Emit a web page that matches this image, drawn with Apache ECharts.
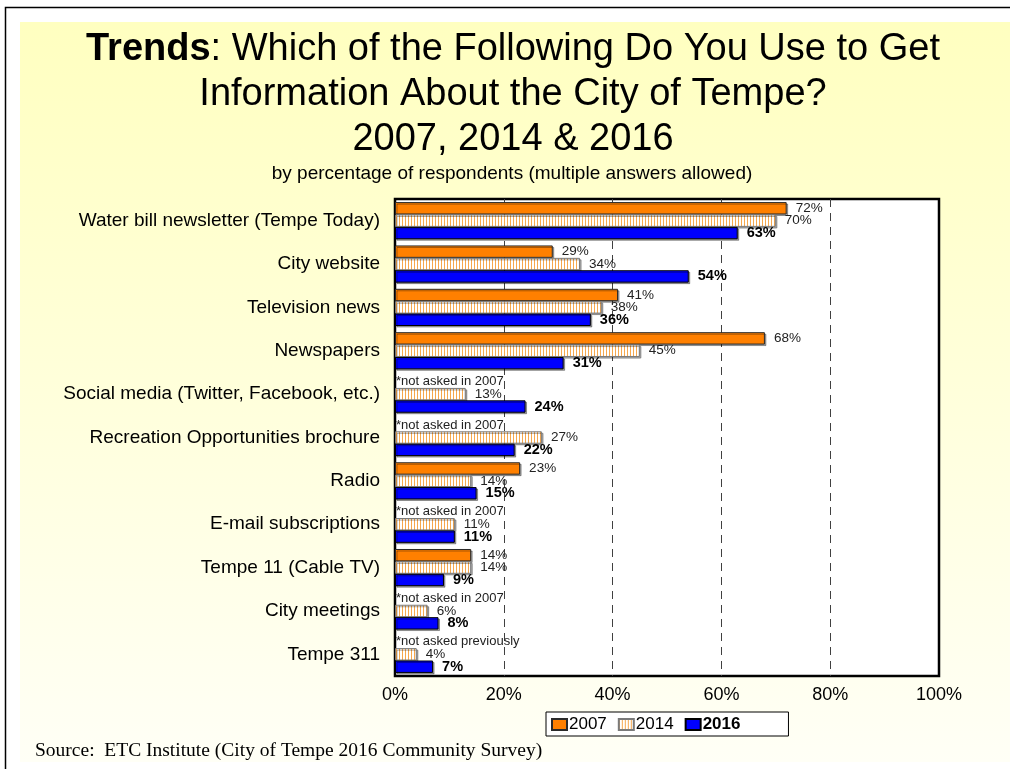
<!DOCTYPE html>
<html>
<head>
<meta charset="utf-8">
<title>Trends: Information Sources About the City of Tempe</title>
<script src="https://cdn.jsdelivr.net/npm/echarts/dist/echarts.min.js"></script>
<style>
  html, body { margin: 0; padding: 0; background: #ffffff; }
  #chart { width: 1010px; height: 769px; }
</style>
</head>
<body>
<div id="chart"></div>
<script>
// Survey sources, top to bottom
const categories = [
  'Water bill newsletter (Tempe Today)',
  'City website',
  'Television news',
  'Newspapers',
  'Social media (Twitter, Facebook, etc.)',
  'Recreation Opportunities brochure',
  'Radio',
  'E-mail subscriptions',
  'Tempe 11 (Cable TV)',
  'City meetings',
  'Tempe 311'
];

// Percentage of respondents per survey year (null = not asked that year)
const values2007 = [72, 29, 41, 68, null, null, 23, null, 14, null, null];
const values2014 = [70, 34, 38, 45, 13, 27, 14, 11, 14, 6, 4];
const values2016 = [63, 54, 36, 31, 24, 22, 15, 11, 9, 8, 7];

// Footnotes shown in the 2007 slot when the question was not asked
const notes2007 = [
  '', '', '', '',
  '*not asked in 2007',
  '*not asked in 2007',
  '',
  '*not asked in 2007',
  '',
  '*not asked in 2007',
  '*not asked previously'
];

const seriesNames = ['2007', '2014', '2016'];
const xTicks = [0, 20, 40, 60, 80, 100];

const titleLines = [
  '{b|Trends}: Which of the Following Do You Use to Get',
  'Information About the City of Tempe?',
  '2007, 2014 & 2016'
];
const subtitleText = 'by percentage of respondents (multiple answers allowed)';
const sourceText = 'Source:  ETC Institute (City of Tempe 2016 Community Survey)';

// Vertical-stripe fill used for the 2014 bars
function stripeFill() {
  const c = document.createElement('canvas');
  c.width = 3; c.height = 4;
  const ctx = c.getContext('2d');
  ctx.fillStyle = '#ffffff';
  ctx.fillRect(0, 0, 3, 4);
  ctx.fillStyle = '#f6a84e';
  ctx.fillRect(0, 0, 1, 4);
  return { image: c, repeat: 'repeat' };
}

const barShadow = {
  shadowColor: 'rgba(0,0,0,0.35)',
  shadowOffsetX: 1.5,
  shadowOffsetY: 1.5,
  shadowBlur: 0
};

const plainLabel = {
  show: true,
  position: 'right',
  distance: 9,
  fontFamily: 'Liberation Sans, Arial, sans-serif',
  fontSize: 13.5,
  color: '#222',
  formatter: p => p.value + '%'
};

const data2007 = values2007.map((v, i) => {
  if (v === null) {
    return {
      value: 0,
      itemStyle: { color: 'transparent', borderWidth: 0, shadowColor: 'transparent' },
      label: { show: true, position: 'right', distance: 1, formatter: notes2007[i], fontSize: 13, color: '#222' }
    };
  }
  return v;
});

const chart = echarts.init(document.getElementById('chart'), null, { renderer: 'canvas' });

const titleY = [50, 95, 140];

const option = {
  backgroundColor: '#ffffff',
  animation: false,
  textStyle: { fontFamily: 'Liberation Sans, Arial, sans-serif' },
  graphic: [
    {
      type: 'rect', z: -100, silent: true,
      shape: { x: 20, y: 22, width: 990, height: 740 },
      style: {
        fill: new echarts.graphic.LinearGradient(0, 0, 0, 1, [
          { offset: 0, color: '#ffffc0' },
          { offset: 1, color: '#fffff6' }
        ])
      }
    },
    {
      type: 'polyline', z: -99, silent: true,
      shape: { points: [[5.5, 769], [5.5, 7.5], [1010, 7.5]] },
      style: { stroke: '#000', lineWidth: 1.5, fill: null }
    },
    ...titleLines.map((t, i) => ({
      type: 'text', z: 10, silent: true,
      x: 513, y: titleY[i],
      style: {
        text: t,
        fill: '#000',
        font: '38px "Liberation Sans", Arial, sans-serif',
        textAlign: 'center', textVerticalAlign: 'middle',
        align: 'center', verticalAlign: 'middle',
        rich: { b: { fontWeight: 'bold', fontSize: 38, fontFamily: 'Liberation Sans' } }
      }
    })),
    {
      type: 'text', z: 10, silent: true,
      x: 512, y: 174,
      style: {
        text: subtitleText,
        fill: '#000',
        font: '19px "Liberation Sans", Arial, sans-serif',
        textAlign: 'center', textVerticalAlign: 'middle',
        align: 'center', verticalAlign: 'middle'
      }
    },
    {
      type: 'text', z: 10, silent: true,
      x: 35, y: 751,
      style: {
        text: sourceText,
        fill: '#000',
        font: '19.5px "Liberation Serif", "Times New Roman", serif',
        textAlign: 'left', textVerticalAlign: 'middle',
        align: 'left', verticalAlign: 'middle'
      }
    }
  ],
  legend: {
    left: 546,
    top: 712,
    orient: 'horizontal',
    backgroundColor: '#ffffff',
    borderColor: '#000',
    borderWidth: 1,
    borderRadius: 0,
    padding: [4, 48, 3, 5],
    itemWidth: 15,
    itemHeight: 11,
    itemGap: 11,
    icon: 'rect',
    textStyle: { fontSize: 17, color: '#000', fontFamily: 'Liberation Sans, Arial, sans-serif', padding: [0, 0, 0, -3] },
    data: [
      { name: '2007' },
      { name: '2014' },
      { name: '2016', textStyle: { fontWeight: 'bold' } }
    ]
  },
  grid: {
    left: 395,
    top: 199,
    width: 544,
    height: 477,
    show: true,
    backgroundColor: '#ffffff',
    borderColor: '#000',
    borderWidth: 2.5,
    containLabel: false,
    outerBoundsMode: 'none'
  },
  xAxis: {
    type: 'value',
    min: xTicks[0],
    max: xTicks[xTicks.length - 1],
    interval: xTicks[1] - xTicks[0],
    axisLine: { show: false },
    axisTick: { show: false },
    axisLabel: {
      formatter: '{value}%',
      fontSize: 18,
      color: '#000',
      margin: 10,
      fontFamily: 'Liberation Sans, Arial, sans-serif'
    },
    splitLine: {
      show: true,
      showMinLine: false,
      showMaxLine: false,
      lineStyle: { color: '#404040', width: 1, type: [8, 6] }
    }
  },
  yAxis: {
    type: 'category',
    data: categories,
    inverse: true,
    axisLine: { show: false },
    axisTick: { show: false },
    splitLine: { show: false },
    axisLabel: {
      fontSize: 19,
      color: '#000',
      margin: 15,
      fontFamily: 'Liberation Sans, Arial, sans-serif'
    }
  },
  series: [
    {
      name: seriesNames[0],
      type: 'bar',
      data: data2007,
      barWidth: 12.4,
      barGap: '0%',
      itemStyle: Object.assign({ color: '#ff8000', borderColor: '#2a2a2a', borderWidth: 1 }, barShadow),
      label: plainLabel
    },
    {
      name: seriesNames[1],
      type: 'bar',
      data: values2014,
      barWidth: 12.4,
      barGap: '0%',
      itemStyle: Object.assign({ color: stripeFill(), borderColor: '#7a7a7a', borderWidth: 1 }, barShadow),
      label: plainLabel
    },
    {
      name: seriesNames[2],
      type: 'bar',
      data: values2016,
      barWidth: 12.4,
      barGap: '0%',
      itemStyle: Object.assign({ color: '#0000ff', borderColor: '#000', borderWidth: 1 }, barShadow),
      label: Object.assign({}, plainLabel, { fontSize: 14.5, fontWeight: 'bold', color: '#000' })
    }
  ]
};

chart.setOption(option);
</script>
</body>
</html>
